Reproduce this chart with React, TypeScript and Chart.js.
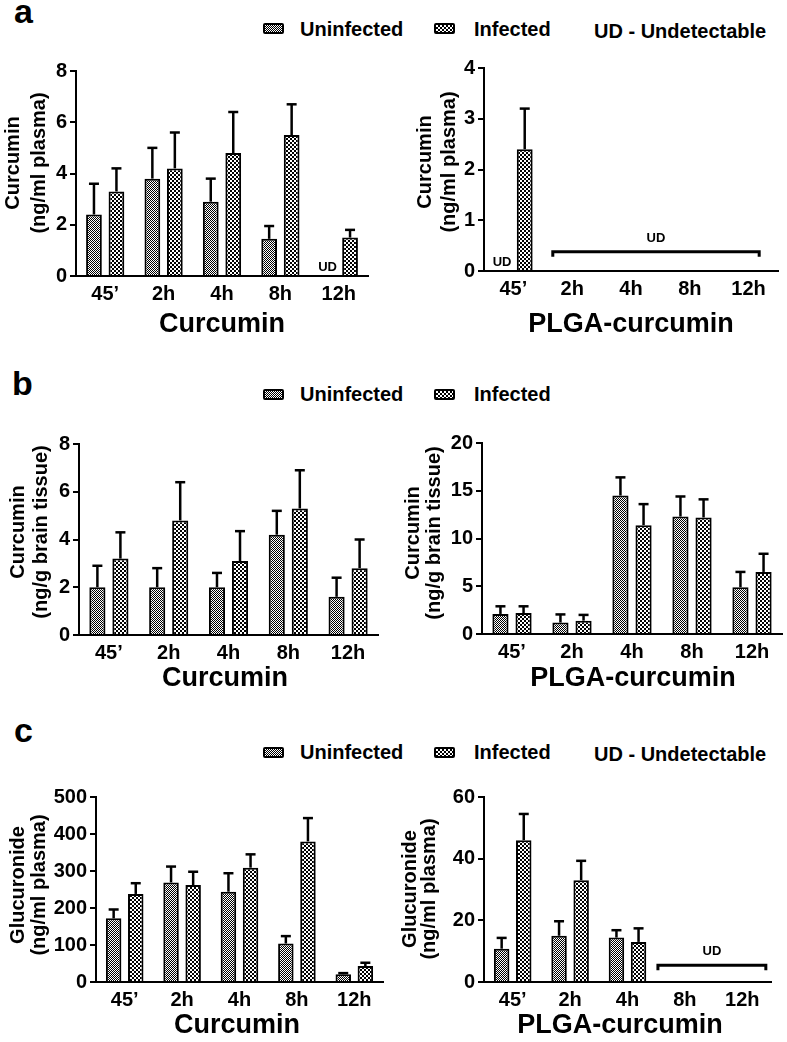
import React, { useEffect, useRef } from 'react';
import { Chart, registerables } from 'chart.js';

Chart.register(...registerables);

const FONT = '"Liberation Sans", Arial, Helvetica, sans-serif';
Chart.defaults.font.family = FONT;
Chart.defaults.color = '#000';

// ---------- data ----------
const timepoints = ['45\u2019', '2h', '4h', '8h', '12h'];

// a – plasma curcumin, free curcumin
const aCurUninf = [2.4, 3.8, 2.9, 1.45, null];
const aCurUninfErr = [1.2, 1.2, 0.9, 0.5, null];
const aCurInf = [3.3, 4.2, 4.8, 5.5, 1.5];
const aCurInfErr = [0.9, 1.4, 1.6, 1.2, 0.3];
// a – plasma curcumin, PLGA-curcumin
const aPlgaUninf = [null, null, null, null, null];
const aPlgaUninfErr = [null, null, null, null, null];
const aPlgaInf = [2.4, null, null, null, null];
const aPlgaInfErr = [0.8, null, null, null, null];

// b – brain curcumin, free curcumin
const bCurUninf = [2.0, 2.0, 2.0, 4.2, 1.6];
const bCurUninfErr = [0.9, 0.8, 0.6, 1.0, 0.8];
const bCurInf = [3.2, 4.8, 3.1, 5.3, 2.8];
const bCurInfErr = [1.1, 1.6, 1.25, 1.6, 1.2];
// b – brain curcumin, PLGA-curcumin
const bPlgaUninf = [2.1, 1.2, 14.5, 12.3, 4.9];
const bPlgaUninfErr = [0.8, 0.85, 1.9, 2.1, 1.6];
const bPlgaInf = [2.2, 1.4, 11.4, 12.2, 6.5];
const bPlgaInfErr = [0.7, 0.6, 2.2, 1.9, 1.9];

// c – plasma glucuronide, free curcumin
const cCurUninf = [172, 269, 244, 104, 21];
const cCurUninfErr = [24, 43, 50, 20, 3];
const cCurInf = [238, 262, 309, 380, 43];
const cCurInfErr = [29, 36, 36, 63, 9];
// c – plasma glucuronide, PLGA-curcumin
const cPlgaUninf = [10.8, 15, 14.4, null, null];
const cPlgaUninfErr = [3.5, 4.7, 2.4, null, null];
const cPlgaInf = [46, 33, 13, null, null];
const cPlgaInfErr = [8.5, 6.3, 4.4, null, null];

// axis ranges
const aCurAxis = { max: 8, step: 2 };
const aPlgaAxis = { max: 4, step: 1 };
const bCurAxis = { max: 8, step: 2 };
const bPlgaAxis = { max: 20, step: 5 };
const cCurAxis = { max: 500, step: 100 };
const cPlgaAxis = { max: 60, step: 20 };

// UD (undetectable) bracket spans, in category units, and level
const aPlgaBracket = { from: 0.67, to: 4.18, value: 0.38 };
const cPlgaBracket = { from: 2.53, to: 4.41, value: 5.4 };

type Num = number | null;
interface PanelDef {
  key: string;
  cx: number; cy: number; cw: number; ch: number; // canvas rect (page)
  plot: { l: number; t: number; r: number; b: number }; // plot rect (page)
  axis: { max: number; step: number };
  uninf: Num[]; uninfErr: Num[]; inf: Num[]; infErr: Num[];
  yTitle: string[]; yTitleX: number[]; yTitleCY: number;
  xTitle: string; xTitleCX: number; xTitleCY: number;
  ud: { ds: number; i: number }[];
  bracket?: { from: number; to: number; value: number };
}

const panels: PanelDef[] = [
  {
    key: 'aL', cx: 0, cy: 40, cw: 390, ch: 310,
    plot: { l: 76, t: 71, r: 368, b: 276 }, axis: aCurAxis,
    uninf: aCurUninf, uninfErr: aCurUninfErr, inf: aCurInf, infErr: aCurInfErr,
    yTitle: ['Curcumin', '(ng/ml plasma)'], yTitleX: [13, 39], yTitleCY: 163,
    xTitle: 'Curcumin', xTitleCX: 222, xTitleCY: 325,
    ud: [{ ds: 0, i: 4 }],
  },
  {
    key: 'aR', cx: 390, cy: 40, cw: 397, ch: 310,
    plot: { l: 484, t: 68, r: 778, b: 271 }, axis: aPlgaAxis,
    uninf: aPlgaUninf, uninfErr: aPlgaUninfErr, inf: aPlgaInf, infErr: aPlgaInfErr,
    yTitle: ['Curcumin', '(ng/ml plasma)'], yTitleX: [425, 449], yTitleCY: 162,
    xTitle: 'PLGA-curcumin', xTitleCX: 631, xTitleCY: 325,
    ud: [{ ds: 0, i: 0 }], bracket: aPlgaBracket,
  },
  {
    key: 'bL', cx: 0, cy: 410, cw: 390, ch: 290,
    plot: { l: 79, t: 444, r: 378, b: 635 }, axis: bCurAxis,
    uninf: bCurUninf, uninfErr: bCurUninfErr, inf: bCurInf, infErr: bCurInfErr,
    yTitle: ['Curcumin', '(ng/g brain tissue)'], yTitleX: [18, 41], yTitleCY: 532,
    xTitle: 'Curcumin', xTitleCX: 225, xTitleCY: 679,
    ud: [],
  },
  {
    key: 'bR', cx: 390, cy: 410, cw: 397, ch: 290,
    plot: { l: 482, t: 443, r: 782, b: 634 }, axis: bPlgaAxis,
    uninf: bPlgaUninf, uninfErr: bPlgaUninfErr, inf: bPlgaInf, infErr: bPlgaInfErr,
    yTitle: ['Curcumin', '(ng/g brain tissue)'], yTitleX: [413, 434], yTitleCY: 533,
    xTitle: 'PLGA-curcumin', xTitleCX: 633, xTitleCY: 679,
    ud: [],
  },
  {
    key: 'cL', cx: 0, cy: 765, cw: 390, ch: 277,
    plot: { l: 96, t: 797, r: 383, b: 982 }, axis: cCurAxis,
    uninf: cCurUninf, uninfErr: cCurUninfErr, inf: cCurInf, infErr: cCurInfErr,
    yTitle: ['Glucuronide', '(ng/ml plasma)'], yTitleX: [18, 39], yTitleCY: 885,
    xTitle: 'Curcumin', xTitleCX: 237, xTitleCY: 1026,
    ud: [],
  },
  {
    key: 'cR', cx: 390, cy: 765, cw: 397, ch: 277,
    plot: { l: 484, t: 797, r: 771, b: 982 }, axis: cPlgaAxis,
    uninf: cPlgaUninf, uninfErr: cPlgaUninfErr, inf: cPlgaInf, infErr: cPlgaInfErr,
    yTitle: ['Glucuronide', '(ng/ml plasma)'], yTitleX: [410, 429], yTitleCY: 889,
    xTitle: 'PLGA-curcumin', xTitleCX: 620, xTitleCY: 1026,
    ud: [], bracket: cPlgaBracket,
  },
];

function makePattern(cell: number): CanvasPattern | string {
  const c = document.createElement('canvas');
  c.width = cell * 2;
  c.height = cell * 2;
  const g = c.getContext('2d');
  if (!g) return '#888';
  g.fillStyle = '#fff';
  g.fillRect(0, 0, cell * 2, cell * 2);
  g.fillStyle = '#000';
  g.fillRect(0, 0, cell, cell);
  g.fillRect(cell, cell, cell, cell);
  return g.createPattern(c, 'repeat') || '#888';
}

function PanelChart({ p }: { p: PanelDef }) {
  const ref = useRef<HTMLCanvasElement>(null);
  useEffect(() => {
    const canvas = ref.current;
    if (!canvas) return;
    const patU = makePattern(1);
    const patI = makePattern(2);
    const yW = p.plot.l - p.cx;
    const xH = p.cy + p.ch - p.plot.b;

    const decor = {
      id: 'decor' + p.key,
      afterDatasetsDraw(chart: any) {
        const ctx: CanvasRenderingContext2D = chart.ctx;
        const x = chart.scales.x;
        const y = chart.scales.y;
        const catW = (x.right - x.left) / timepoints.length;
        const barX = (ds: number, i: number) => {
          const el = chart.getDatasetMeta(ds).data[i];
          if (el && isFinite(el.x)) return el.x;
          return x.getPixelForValue(i) + (ds === 0 ? -1 : 1) * catW * 0.77 / 4;
        };
        ctx.save();
        ctx.strokeStyle = '#000';
        ctx.fillStyle = '#000';
        // error bars (upper only)
        const sets: [Num[], Num[]][] = [[p.uninf, p.uninfErr], [p.inf, p.infErr]];
        sets.forEach(([vals, errs], di) => {
          vals.forEach((v, i) => {
            const e = errs[i];
            if (v == null || e == null) return;
            const bx = barX(di, i);
            const y0 = y.getPixelForValue(v);
            const y1 = y.getPixelForValue(v + e);
            ctx.lineWidth = 2.5;
            ctx.lineCap = 'butt';
            ctx.beginPath();
            ctx.moveTo(bx, y0);
            ctx.lineTo(bx, y1);
            ctx.stroke();
            ctx.beginPath();
            ctx.moveTo(bx - 5, y1);
            ctx.lineTo(bx + 5, y1);
            ctx.stroke();
          });
        });
        // UD labels
        ctx.font = `bold 13px ${FONT}`;
        ctx.textAlign = 'center';
        ctx.textBaseline = 'middle';
        p.ud.forEach(({ ds, i }) => {
          ctx.fillText('UD', barX(ds, i), y.getPixelForValue(0) - 9);
        });
        if (p.bracket) {
          const x0 = x.getPixelForValue(p.bracket.from);
          const x1 = x.getPixelForValue(p.bracket.to);
          const yb = y.getPixelForValue(p.bracket.value);
          ctx.lineWidth = 3;
          ctx.lineJoin = 'miter';
          ctx.beginPath();
          ctx.moveTo(x0, yb + 5);
          ctx.lineTo(x0, yb);
          ctx.lineTo(x1, yb);
          ctx.lineTo(x1, yb + 5);
          ctx.stroke();
          ctx.fillText('UD', (x0 + x1) / 2, yb - 13.5);
        }
        // y-axis title (two lines, rotated)
        ctx.font = `bold 20px ${FONT}`;
        p.yTitle.forEach((line, k) => {
          ctx.save();
          ctx.translate(p.yTitleX[k] - p.cx, p.yTitleCY - p.cy);
          ctx.rotate(-Math.PI / 2);
          ctx.fillText(line, 0, 0);
          ctx.restore();
        });
        // x-axis title
        ctx.font = `bold 27px ${FONT}`;
        ctx.fillText(p.xTitle, p.xTitleCX - p.cx, p.xTitleCY - p.cy);
        ctx.restore();
      },
    };

    const chart = new Chart(canvas, {
      type: 'bar',
      data: {
        labels: timepoints,
        datasets: [
          {
            label: 'Uninfected',
            data: p.uninf as any,
            backgroundColor: patU as any,
            borderColor: '#000',
            borderWidth: 2,
            categoryPercentage: 0.77,
            barPercentage: 0.7,
          },
          {
            label: 'Infected',
            data: p.inf as any,
            backgroundColor: patI as any,
            borderColor: '#000',
            borderWidth: 2,
            categoryPercentage: 0.77,
            barPercentage: 0.7,
          },
        ],
      },
      options: {
        responsive: false,
        animation: false,
        devicePixelRatio: 1,
        layout: {
          padding: { top: p.plot.t - p.cy, right: p.cx + p.cw - p.plot.r, left: 0, bottom: 0 },
        },
        plugins: { legend: { display: false }, tooltip: { enabled: false } },
        scales: {
          x: {
            type: 'category',
            offset: true,
            grid: { display: false, drawTicks: false },
            border: { display: true, color: '#000', width: 2 },
            ticks: {
              color: '#000',
              font: { size: 20, weight: 'bold' },
              padding: 6,
              autoSkip: false,
              maxRotation: 0,
            },
            afterFit: (s: any) => { s.height = xH; },
          },
          y: {
            min: 0,
            max: p.axis.max,
            ticks: {
              stepSize: p.axis.step,
              color: '#000',
              font: { size: 20, weight: 'bold' },
              padding: 3,
            },
            grid: {
              display: true,
              drawOnChartArea: false,
              drawTicks: true,
              tickLength: 6,
              color: '#000',
              lineWidth: 2,
            },
            border: { display: true, color: '#000', width: 2 },
            afterFit: (s: any) => { s.width = yW; },
          },
        },
      } as any,
      plugins: [decor as any],
    });
    return () => chart.destroy();
  }, [p]);
  return (
    <canvas
      ref={ref}
      width={p.cw}
      height={p.ch}
      style={{ position: 'absolute', left: p.cx, top: p.cy, width: p.cw, height: p.ch }}
    />
  );
}

const swatchBase: React.CSSProperties = {
  position: 'absolute',
  width: 21,
  height: 11,
  border: '2px solid #000',
  borderRadius: 2,
  boxSizing: 'border-box',
  backgroundImage: 'repeating-conic-gradient(#000 0% 25%, #fff 0% 50%)',
};

const textBase: React.CSSProperties = {
  position: 'absolute',
  fontSize: 20,
  lineHeight: '20px',
  fontWeight: 'bold',
  whiteSpace: 'nowrap',
  color: '#000',
};

function LegendRow({ center, ud, udCenter }: { center: number; ud: boolean; udCenter: number }) {
  return (
    <>
      <div style={{ ...swatchBase, left: 263, top: center - 5.5, backgroundSize: '2px 2px' }} />
      <div style={{ ...textBase, left: 300, top: center - 10 }}>Uninfected</div>
      <div style={{ ...swatchBase, left: 434, top: center - 5.5, backgroundSize: '4px 4px' }} />
      <div style={{ ...textBase, left: 474, top: center - 10 }}>Infected</div>
      {ud && <div style={{ ...textBase, left: 594, top: udCenter - 10 }}>UD - Undetectable</div>}
    </>
  );
}

const letterStyle: React.CSSProperties = {
  position: 'absolute',
  fontSize: 34,
  lineHeight: '34px',
  fontWeight: 'bold',
  color: '#000',
};

export default function App() {
  return (
    <div
      style={{
        position: 'absolute',
        left: 0,
        top: 0,
        width: 787,
        height: 1042,
        background: '#fff',
        fontFamily: FONT,
        overflow: 'hidden',
      }}
    >
      <div style={{ ...letterStyle, left: 14, top: 23 - 29 }}>a</div>
      <div style={{ ...letterStyle, left: 12, top: 395 - 29 }}>b</div>
      <div style={{ ...letterStyle, left: 14, top: 742 - 29 }}>c</div>
      <LegendRow center={28.7} ud={true} udCenter={31} />
      <LegendRow center={394} ud={false} udCenter={394} />
      <LegendRow center={752} ud={true} udCenter={754} />
      {panels.map((p) => (
        <PanelChart key={p.key} p={p} />
      ))}
    </div>
  );
}
